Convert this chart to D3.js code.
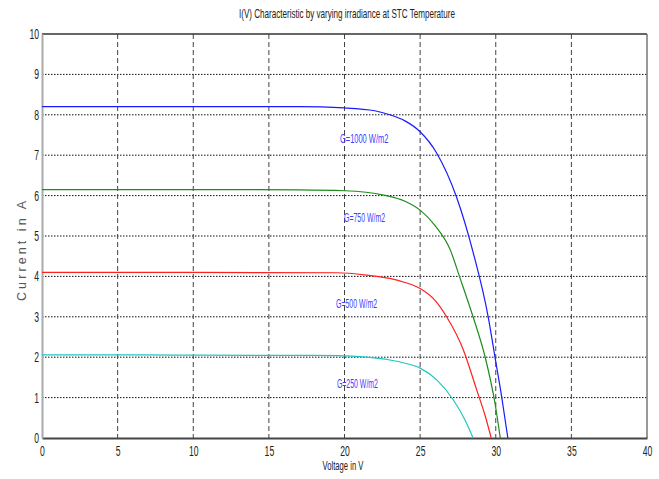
<!DOCTYPE html>
<html>
<head>
<meta charset="utf-8">
<title>I(V) Characteristic</title>
<script src="https://d3js.org/d3.v7.min.js"></script>
<style>
  body { margin: 0; background: #fff; }
  text { font-family: "Liberation Sans", Arial, sans-serif; }
</style>
</head>
<body>
<svg width="659" height="479"></svg>
<script>
// values (voltage in V, current in A)
var v1000 = [0, 10, 17, 20, 22, 23, 24, 25, 26.1, 27.4, 28.5, 29.5, 29.95, 30.4, 30.8];
var i1000 = [8.2, 8.2, 8.2, 8.17, 8.1, 8.0, 7.85, 7.58, 7.05, 5.97, 4.6, 3.0, 2.0, 1.0, 0];
var v750 = [0, 10, 17, 20, 22.6, 24, 25, 26, 27, 27.6, 28.5, 29.3, 29.95, 30.3];
var i750 = [6.15, 6.15, 6.14, 6.12, 6.01, 5.86, 5.64, 5.25, 4.65, 4.0, 3.0, 2.0, 0.86, 0];
var v500 = [0, 10, 19.5, 21.5, 23, 24, 25, 26, 26.75, 27.86, 28.74, 29.3, 29.7];
var i500 = [4.1, 4.1, 4.09, 4.03, 3.95, 3.85, 3.7, 3.4, 3.0, 2.18, 1.19, 0.55, 0];
var v250 = [0, 6, 10, 19.5, 21.5, 23, 24, 25, 26.1, 27.2, 28, 28.5];
var i250 = [2.06, 2.06, 2.05, 2.04, 2.0, 1.93, 1.85, 1.73, 1.44, 0.94, 0.42, 0];
var series = [
  { name: "G=1000 W/m2", v: v1000, i: i1000, color: "#1a1aff" },
  { name: "G=750 W/m2", v: v750, i: i750, color: "#1c8c1c" },
  { name: "G=500 W/m2", v: v500, i: i500, color: "#ff2020" },
  { name: "G=250 W/m2", v: v250, i: i250, color: "#22c4c4" }
];
// where the curve labels sit, in data units
var labelV = [19.7, 19.97, 19.44, 19.5];
var labelI = [7.3, 5.35, 3.22, 1.24];
var xTicks = [0, 5, 10, 15, 20, 25, 30, 35, 40];
var yTicks = [0, 1, 2, 3, 4, 5, 6, 7, 8, 9, 10];

var svg = d3.select("svg");
var mLeft = 42, mRight = 647, mTop = 34, mBottom = 438;
var x = d3.scaleLinear().domain([0, 40]).range([mLeft, mRight]);
var y = d3.scaleLinear().domain([0, 10]).range([mBottom, mTop]);

// squeeze text to look like a narrow font
function narrow(sel, perChar) {
  sel.attr("textLength", function() { return this.textContent.length * perChar; })
    .attr("lengthAdjust", "spacingAndGlyphs");
}

// grid
svg.append("g")
  .selectAll("line").data(yTicks.slice(1, -1)).enter().append("line")
  .attr("x1", mLeft).attr("x2", mRight)
  .attr("y1", function(d) { return y(d); }).attr("y2", function(d) { return y(d); })
  .attr("stroke", "#111").attr("stroke-width", 1).attr("stroke-dasharray", "1.5,1.5");
svg.append("g")
  .selectAll("line").data(xTicks.slice(1, -1)).enter().append("line")
  .attr("y1", mTop).attr("y2", mBottom)
  .attr("x1", function(d) { return x(d); }).attr("x2", function(d) { return x(d); })
  .attr("stroke", "#444").attr("stroke-width", 1).attr("stroke-dasharray", "5,3");

// frame
svg.append("line").attr("x1", mLeft).attr("x2", mRight).attr("y1", mTop).attr("y2", mTop)
  .attr("stroke", "#333").attr("stroke-width", 1.5);
svg.append("line").attr("x1", mRight).attr("x2", mRight).attr("y1", mTop).attr("y2", mBottom)
  .attr("stroke", "#777").attr("stroke-width", 1.5);

// axes
var xAxis = svg.append("g").attr("transform", "translate(0," + mBottom + ")")
  .call(d3.axisBottom(x).tickValues(xTicks).tickSize(0).tickPadding(8));
var yAxis = svg.append("g").attr("transform", "translate(" + mLeft + ",0)")
  .call(d3.axisLeft(y).tickValues(yTicks).tickSize(0).tickPadding(3));
xAxis.select(".domain").attr("stroke", "#444").attr("stroke-width", 2);
yAxis.select(".domain").attr("stroke", "#aaa").attr("stroke-width", 2);
svg.selectAll(".tick text").attr("fill", "#222").style("font-size", "14px")
  .style("font-family", "'Liberation Sans', Arial, sans-serif")
  .call(narrow, 4.8);

// curves
var line = d3.line().curve(d3.curveMonotoneX)
  .x(function(d) { return x(d[0]); }).y(function(d) { return y(d[1]); });
series.forEach(function(s, k) {
  svg.append("path")
    .datum(d3.zip(s.v, s.i))
    .attr("d", line)
    .attr("fill", "none")
    .attr("stroke", s.color)
    .attr("stroke-width", 1.2);
  svg.append("text")
    .attr("x", x(labelV[k])).attr("y", y(labelI[k]))
    .attr("fill", "#3c3cff")
    .style("font-size", "13.5px")
    .text(s.name)
    .call(narrow, s.name.length == 11 ? 4.4 : 4.1);
});

// titles
svg.append("text").attr("x", 347).attr("y", 18).attr("text-anchor", "middle")
  .style("font-size", "13px").attr("fill", "#222")
  .text("I(V) Characteristic by varying irradiance at STC Temperature")
  .call(narrow, 3.6);
svg.append("text").attr("x", 343).attr("y", 470).attr("text-anchor", "middle")
  .style("font-size", "13.5px").attr("fill", "#222")
  .text("Voltage in V")
  .call(narrow, 3.4);
svg.append("text").attr("transform", "translate(26,251) rotate(-90)")
  .attr("text-anchor", "middle")
  .style("font-size", "12.5px")
  .attr("fill", "#555")
  .text("Current in A")
  .attr("textLength", 100)
  .attr("lengthAdjust", "spacing");
</script>
</body>
</html>
